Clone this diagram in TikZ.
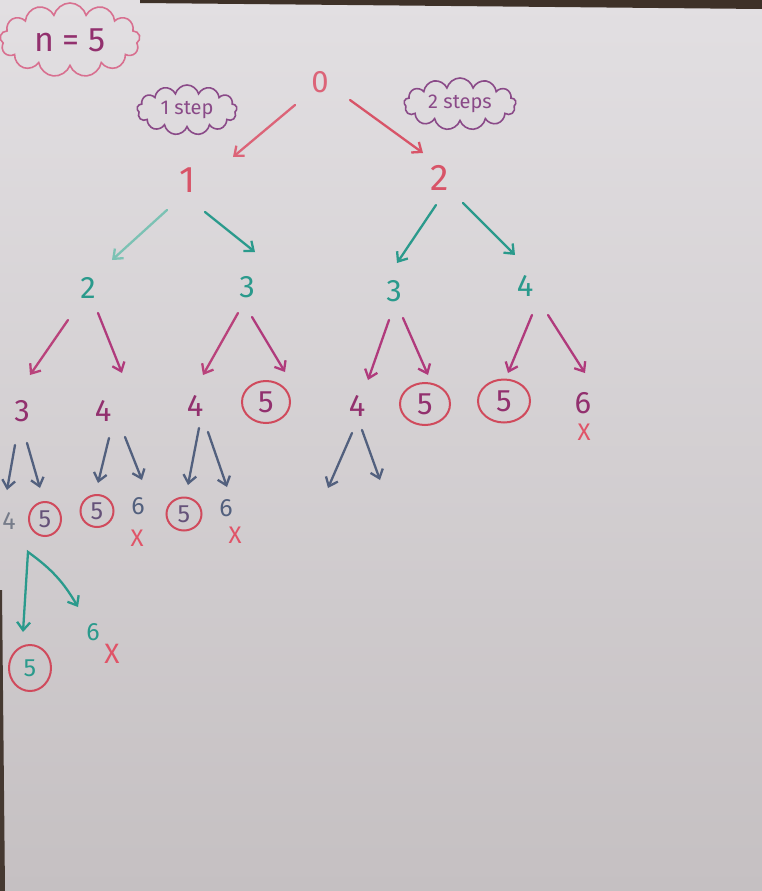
\documentclass[tikz,border=0pt]{standalone}
\usepackage{fontspec}
\setmainfont{Fira Sans}
\usetikzlibrary{arrows.meta,shapes.geometric,shapes.symbols,calc}
\definecolor{pinkA}{HTML}{DC6478}
\definecolor{redA}{HTML}{D85468}
\definecolor{tealA}{HTML}{2A9A8C}
\definecolor{tealL}{HTML}{7CC2B4}
\definecolor{magA}{HTML}{B03A7C}
\definecolor{purA}{HTML}{92306E}
\definecolor{circA}{HTML}{D04A5C}
\definecolor{slateA}{HTML}{52607E}
\definecolor{grayA}{HTML}{767C8A}
\definecolor{cloudP}{HTML}{D87090}
\definecolor{cloudV}{HTML}{8A4A88}
\definecolor{xred}{HTML}{E05468}
\definecolor{bgTop}{HTML}{E2DFE2}
\definecolor{bgBot}{HTML}{C5C0C2}
\definecolor{frameC}{HTML}{3E3128}
\newcommand\myconn[5]{\draw[#1] ($(#2)+(#3)$) -- ($(#4)+(#5)$);}
\tikzset{
  num/.style={inner sep=0pt, font=\fontsize{31}{31}\selectfont},
  big/.style={num, font=\fontsize{37}{37}\selectfont},
  small/.style={num, font=\fontsize{25}{25}\selectfont},
  circled/.style={ellipse, draw=circA, line width=2pt, inner sep=0pt},
  arr/.style={line width=2.3pt, line cap=round, -{Straight Barb[length=8pt,width=13pt,line width=2.3pt]}},
  xmark/.style={inner sep=0pt, text=xred, font=\fontsize{24}{24}\selectfont},
  bubble/.style={cloud, draw, cloud puffs=13, cloud ignores aspect, line width=1.6pt, inner sep=0pt}
}
\begin{document}
\begin{tikzpicture}[x=1pt,y=-1pt]
\useasboundingbox (0,0) rectangle (762,891);
\shade[top color=bgTop, bottom color=bgBot] (0,0) rectangle (762,891);
\fill[frameC] (140,0) -- (762,0) -- (762,9) -- (140,3) -- cycle;
\fill[frameC!90!gray] (0,590) -- (2,590) -- (5,891) -- (0,891) -- cycle;

% clouds
\node[bubble, draw=cloudP, text=purA, minimum width=140pt, minimum height=74pt, font=\fontsize{34}{34}\selectfont] (cn) at (70,40) {n = 5};
\node[bubble, draw=cloudV, text=cloudV, minimum width=100pt, minimum height=50pt, font=\fontsize{20}{20}\selectfont] (c1) at (187,110) {1 step};
\node[bubble, draw=cloudV, text=cloudV, minimum width=112pt, minimum height=52pt, font=\fontsize{20}{20}\selectfont] (c2) at (460,104) {2 steps};

% level 0-1
\node[num, text=pinkA] (n0) at (320,82) {0};
\node[big, text=redA] (n1) at (188,180) {1};
\node[big, text=redA] (n2) at (440,178) {2};

% level 2
\node[num, text=tealA] (a) at (88,288) {2};
\node[num, text=tealA] (b) at (247,287) {3};
\node[num, text=tealA] (c) at (394,291) {3};
\node[num, text=tealA] (d) at (525,286) {4};

% level 3
\node[num, text=purA] (a1) at (22,411) {3};
\node[num, text=purA] (a2) at (103,411) {4};
\node[num, text=purA] (b1) at (195,406) {4};
\node[num, circled, text=purA, minimum width=48pt, minimum height=42pt] (b2) at (266,402) {5};
\node[num, text=purA] (c1n) at (357,406) {4};
\node[num, circled, text=purA, minimum width=50pt, minimum height=42pt] (c2n) at (425,404) {5};
\node[num, circled, text=purA, minimum width=52pt, minimum height=43pt] (d1) at (504,401) {5};
\node[num, text=purA] (d2) at (583,403) {6};
\node[xmark] (x1) at (584,432) {X};

% level 4
\node[small, text=grayA] (a11) at (9,521) {4};
\node[small, circled, text=slateA!70!purA, minimum width=32pt, minimum height=34pt] (a12) at (45,519) {5};
\node[small, circled, text=slateA!70!purA, minimum width=33pt, minimum height=32pt] (a21) at (97,511) {5};
\node[small, text=slateA] (a22) at (138,506) {6};
\node[xmark] (x2) at (137,538) {X};
\node[small, circled, text=slateA!70!purA, minimum width=35pt, minimum height=33pt] (b11) at (184,514) {5};
\node[small, text=slateA] (b12) at (226,508) {6};
\node[xmark] (x3) at (235,535) {X};
\coordinate (c1L) at (328,488);
\coordinate (c1R) at (380,480);

% level 5
\node[small, circled, text=tealA, minimum width=42pt, minimum height=46pt] (t1) at (30,668) {5};
\node[small, text=tealA] (t2) at (93,632) {6};
\node[xmark, font=\fontsize{28}{28}\selectfont] (x4) at (112,654) {X};

% connectors
\myconn{arr, pinkA}{n0}{-25,23}{n1}{45,-23}
\myconn{arr, redA}{n0}{30,18}{n2}{-17,-25}
\myconn{arr, tealL}{n1}{-21,30}{a}{24,-28}
\myconn{arr, tealA}{n1}{17,32}{b}{8,-35}
\myconn{arr, tealA}{n2}{-4,27}{c}{3,-28}
\myconn{arr, tealA}{n2}{23,25}{d}{-10,-31}
\myconn{arr, magA!80!pinkA}{a}{-20,32}{a1}{8,-36}
\myconn{arr, magA}{a}{10,25}{a2}{19,-38}
\myconn{arr, magA!80!pinkA}{b}{-9,26}{b1}{8,-31}
\myconn{arr, magA}{b}{5,30}{b2}{19,-30}
\myconn{arr, magA}{c}{-5,29}{c1n}{11,-26}
\myconn{arr, magA}{c}{9,27}{c2n}{3,-29}
\myconn{arr, magA}{d}{7,29}{d1}{4,-28}
\myconn{arr, magA}{d}{23,29}{d2}{2,-30}
\myconn{arr, slateA}{a1}{-7,34}{a11}{-2,-31}
\myconn{arr, slateA}{a1}{5,32}{a12}{-5,-31}
\myconn{arr, slateA}{a2}{6,27}{a21}{1,-28}
\myconn{arr, slateA}{a2}{22,26}{a22}{4,-26}
\myconn{arr, slateA}{b1}{4,22}{b11}{4,-29}
\myconn{arr, slateA}{b1}{13,26}{b12}{1,-21}
\draw[arr, slateA] ($(c1n)+(-5,27)$) -- (c1L);
\draw[arr, slateA] ($(c1n)+(5,24)$) -- (c1R);
\draw[arr, tealA, {Straight Barb[length=8pt,width=13pt,line width=2.3pt]}-{Straight Barb[length=8pt,width=13pt,line width=2.3pt]}]
  ($(t1)+(-7,-36)$) -- ($(a11)+(19,31)$) to[bend left=12] ($(t2)+(-15,-25)$);
\end{tikzpicture}
\end{document}
